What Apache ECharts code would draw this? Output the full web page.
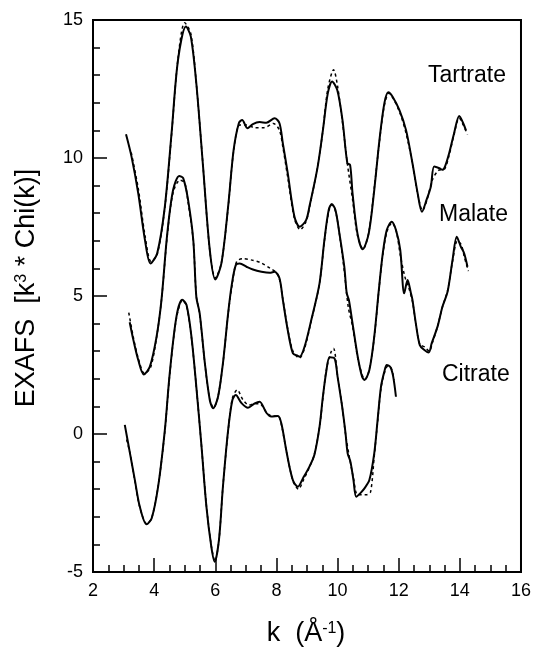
<!DOCTYPE html>
<html>
<head>
<meta charset="utf-8">
<script src="https://cdn.jsdelivr.net/npm/echarts@6/dist/echarts.min.js"></script>
<style>
  html, body { margin: 0; padding: 0; background: #fff; }
  #chart { width: 534px; height: 649px; }
</style>
</head>
<body>
<div id="chart"></div>
<script>
  // measured data, [k, k^3*chi(k)] (curves are offset vertically as in the figure)
  var tartrateExp = [[3.08,10.86],[3.26,10.05],[3.48,8.72],[3.70,7.03],[3.88,6.18],[4.10,6.55],[4.35,8.24],[4.57,10.9],[4.78,13.55],[5.04,14.76],[5.20,14.4],[5.38,12.7],[5.60,9.69],[5.82,6.67],[6.00,5.6],[6.20,6.18],[6.42,8.24],[6.60,10.29],[6.77,11.26],[6.88,11.38],[7.05,11.08],[7.23,11.23],[7.45,11.3],[7.67,11.28],[7.94,11.44],[8.10,11.26],[8.21,10.53],[8.37,9.45],[8.59,7.87],[8.76,7.51],[8.97,7.75],[9.08,8.24],[9.35,9.69],[9.52,11.0],[9.68,12.34],[9.82,12.77],[9.99,12.46],[10.16,11.38],[10.32,9.81],[10.41,9.75],[10.49,8.72],[10.65,7.27],[10.82,6.69],[11.02,7.27],[11.2,8.84],[11.37,10.65],[11.53,11.98],[11.66,12.38],[11.80,12.22],[12.02,11.74],[12.24,11.01],[12.45,9.81],[12.62,8.72],[12.76,8.05],[12.91,8.48],[13.05,8.96],[13.16,9.69],[13.33,9.63],[13.43,9.57],[13.52,9.71],[13.65,10.17],[13.81,10.89],[13.98,11.52],[14.11,11.26],[14.2,11.0]];
  var tartrateFit = [[3.25,10.2],[3.48,8.9],[3.70,7.2],[3.9,6.25],[4.1,6.5],[4.35,8.2],[4.57,10.85],[4.78,13.6],[5.0,14.9],[5.2,14.5],[5.38,12.7],[5.6,9.7],[5.82,6.65],[6.0,5.65],[6.2,6.2],[6.42,8.2],[6.6,10.25],[6.8,11.2],[7.0,11.2],[7.3,11.1],[7.6,11.1],[7.9,11.25],[8.1,11.0],[8.21,10.4],[8.37,9.3],[8.59,7.8],[8.78,7.4],[8.97,7.7],[9.08,8.2],[9.35,9.7],[9.52,11.0],[9.68,12.5],[9.87,13.2],[10.0,12.6],[10.16,11.3],[10.32,9.8],[10.49,8.5],[10.65,7.2],[10.84,6.7],[11.02,7.3],[11.2,8.9],[11.37,10.6],[11.53,11.9],[11.68,12.35],[11.85,12.1],[12.05,11.6],[12.24,10.9],[12.45,9.8],[12.62,8.7],[12.78,8.1],[12.93,8.5],[13.1,9.2],[13.3,9.55],[13.5,9.6],[13.65,10.1],[13.81,10.85],[13.98,11.45],[14.11,11.2],[14.25,10.85]];

  var malateExp = [[3.2,4.05],[3.32,3.41],[3.48,2.68],[3.66,2.16],[3.86,2.44],[4.08,3.53],[4.24,4.86],[4.43,7.27],[4.62,8.84],[4.82,9.35],[4.95,9.27],[5.11,8.48],[5.28,7.03],[5.38,4.97],[5.49,4.37],[5.66,2.56],[5.82,1.23],[5.93,0.93],[6.09,1.35],[6.25,2.56],[6.42,4.37],[6.53,5.34],[6.67,6.12],[6.80,6.18],[7.02,6.06],[7.23,5.96],[7.51,5.88],[7.78,5.84],[7.94,5.88],[8.10,5.64],[8.21,4.86],[8.37,3.77],[8.54,2.92],[8.70,2.83],[8.76,2.8],[8.92,3.16],[9.14,4.13],[9.41,5.46],[9.57,7.03],[9.71,8.12],[9.81,8.33],[9.93,8.12],[10.06,7.27],[10.22,6.06],[10.30,5.1],[10.37,4.86],[10.49,4.01],[10.66,2.8],[10.80,2.08],[10.88,1.96],[11.04,2.32],[11.2,3.53],[11.35,5.22],[11.48,6.55],[11.61,7.39],[11.77,7.69],[11.91,7.39],[12.05,6.67],[12.18,5.1],[12.29,5.58],[12.40,5.1],[12.45,4.86],[12.56,4.01],[12.69,3.22],[12.84,3.04],[12.98,2.95],[13.08,3.29],[13.27,3.89],[13.43,4.61],[13.60,5.16],[13.76,6.3],[13.90,7.15],[14.03,6.79],[14.14,6.55],[14.25,6.06]];
  var malateFit = [[3.17,4.4],[3.32,3.5],[3.48,2.75],[3.68,2.2],[3.88,2.4],[4.08,3.5],[4.24,4.85],[4.43,7.2],[4.62,8.75],[4.85,9.2],[5.0,9.1],[5.11,8.4],[5.28,7.0],[5.38,5.0],[5.49,4.35],[5.66,2.55],[5.82,1.25],[5.95,0.95],[6.09,1.35],[6.25,2.55],[6.42,4.35],[6.55,5.4],[6.7,6.25],[6.9,6.35],[7.2,6.3],[7.5,6.2],[7.8,6.0],[8.0,5.85],[8.1,5.6],[8.21,4.9],[8.37,3.8],[8.54,3.0],[8.75,2.75],[8.92,3.1],[9.14,4.1],[9.41,5.45],[9.57,7.0],[9.72,8.1],[9.83,8.3],[9.95,8.0],[10.08,7.1],[10.22,5.9],[10.35,4.6],[10.49,3.9],[10.66,2.75],[10.82,2.1],[10.9,1.98],[11.04,2.35],[11.2,3.5],[11.35,5.2],[11.48,6.5],[11.62,7.35],[11.78,7.65],[11.92,7.35],[12.05,6.5],[12.2,5.7],[12.33,5.3],[12.45,4.8],[12.56,4.0],[12.69,3.25],[12.86,3.15],[13.0,3.0],[13.1,3.3],[13.27,3.9],[13.43,4.6],[13.6,5.2],[13.76,6.25],[13.92,7.0],[14.05,6.85],[14.15,6.4],[14.28,5.9]];

  var citrateExp = [[3.04,0.33],[3.21,-0.7],[3.37,-1.67],[3.53,-2.63],[3.75,-3.27],[3.92,-3.05],[4.13,-1.91],[4.35,0.14],[4.51,2.2],[4.73,4.25],[4.92,4.86],[5.06,4.67],[5.22,3.53],[5.38,1.71],[5.55,-0.46],[5.71,-2.63],[5.87,-4.08],[5.98,-4.63],[6.12,-3.84],[6.25,-1.91],[6.42,0.14],[6.56,1.23],[6.67,1.41],[6.85,1.13],[7.07,0.95],[7.29,1.11],[7.45,1.17],[7.67,0.77],[7.83,0.63],[8.05,0.65],[8.16,0.39],[8.32,-0.58],[8.45,-1.30],[8.56,-1.73],[8.70,-1.91],[8.87,-1.6],[9.08,-1.18],[9.24,-0.76],[9.41,0.26],[9.52,1.35],[9.63,2.26],[9.74,2.78],[9.90,2.74],[10.0,2.08],[10.15,0.99],[10.26,0.03],[10.33,-0.70],[10.42,-1.0],[10.52,-1.67],[10.61,-2.27],[10.74,-2.15],[10.88,-1.97],[11.04,-1.67],[11.20,-0.70],[11.31,0.51],[11.42,1.71],[11.53,2.26],[11.61,2.5],[11.73,2.42],[11.82,2.08],[11.91,1.35]];
  var citrateFit = [[3.1,-0.2],[3.21,-0.7],[3.37,-1.7],[3.53,-2.65],[3.76,-3.25],[3.92,-3.05],[4.13,-1.9],[4.35,0.1],[4.51,2.15],[4.73,4.2],[4.93,4.85],[5.06,4.65],[5.22,3.5],[5.38,1.7],[5.55,-0.45],[5.71,-2.6],[5.87,-4.05],[5.99,-4.6],[6.12,-3.85],[6.25,-1.9],[6.42,0.1],[6.56,1.3],[6.72,1.6],[6.9,1.25],[7.1,1.05],[7.3,1.1],[7.45,1.1],[7.67,0.8],[7.85,0.65],[8.05,0.65],[8.16,0.35],[8.32,-0.6],[8.45,-1.3],[8.56,-1.75],[8.72,-2.0],[8.87,-1.7],[9.08,-1.2],[9.24,-0.75],[9.41,0.25],[9.52,1.3],[9.63,2.3],[9.78,2.95],[9.87,3.1],[10.0,2.1],[10.15,1.0],[10.26,0.0],[10.38,-0.8],[10.52,-1.6],[10.65,-2.2],[10.8,-2.2],[10.95,-2.2],[11.08,-2.1],[11.2,-0.8],[11.31,0.45],[11.42,1.65],[11.53,2.2],[11.63,2.45],[11.75,2.4],[11.85,1.95]];

  var curveLabels = ['Tartrate', 'Malate', 'Citrate'];
  var xTicks = [2, 4, 6, 8, 10, 12, 14, 16];
  var yTicks = [-5, 0, 5, 10, 15];

  var chart = echarts.init(document.getElementById('chart'));
  var FONT = 'Liberation Sans, Arial, Helvetica, sans-serif';

  function expLine(data) {
    return {
      type: 'line', data: data, showSymbol: false, smooth: 0.3,
      lineStyle: { color: '#000', width: 2 }, z: 3, silent: true
    };
  }
  function fitLine(data) {
    return {
      type: 'line', data: data, showSymbol: false, smooth: 0.3,
      lineStyle: { color: '#000', width: 1.5, type: [3, 3] }, z: 2, silent: true
    };
  }

  var option = {
    backgroundColor: '#fff',
    animation: false,
    grid: {
      left: 93, top: 20, width: 429, height: 552,
      show: true, borderColor: '#000', borderWidth: 2
    },
    xAxis: {
      type: 'value', min: xTicks[0], max: xTicks[xTicks.length - 1], interval: 2,
      axisLine: { onZero: false, lineStyle: { color: '#000', width: 2 } },
      axisTick: { inside: true, length: 14, lineStyle: { color: '#000', width: 1.5 } },
      minorTick: { show: true, splitNumber: 4, length: 7, lineStyle: { color: '#000', width: 1.5 } },
      splitLine: { show: false },
      axisLabel: { color: '#000', fontSize: 18, fontFamily: FONT, margin: 10 }
    },
    yAxis: {
      type: 'value', min: yTicks[0], max: yTicks[yTicks.length - 1], interval: 5,
      axisLine: { lineStyle: { color: '#000', width: 2 } },
      axisTick: { inside: true, length: 14, lineStyle: { color: '#000', width: 1.5 } },
      minorTick: { show: true, splitNumber: 5, length: 7, lineStyle: { color: '#000', width: 1.5 } },
      splitLine: { show: false },
      axisLabel: { color: '#000', fontSize: 18, fontFamily: FONT, margin: 10 }
    },
    graphic: [
      { type: 'text', x: 428, y: 76, style: { text: curveLabels[0], fontSize: 23, fontFamily: FONT, fill: '#000', verticalAlign: 'middle' } },
      { type: 'text', x: 439, y: 215, style: { text: curveLabels[1], fontSize: 23, fontFamily: FONT, fill: '#000', verticalAlign: 'middle' } },
      { type: 'text', x: 442, y: 375, style: { text: curveLabels[2], fontSize: 23, fontFamily: FONT, fill: '#000', verticalAlign: 'middle' } },
      {
        type: 'text', x: 27, y: 288, rotation: Math.PI / 2,
        style: {
          text: 'EXAFS  [k{sup|3} * Chi(k)]', fontSize: 27, fontFamily: FONT, fill: '#000',
          align: 'center', verticalAlign: 'middle',
          rich: { sup: { fontSize: 16, fontFamily: FONT, fill: '#000', verticalAlign: 'top' } }
        }
      },
      {
        type: 'text', x: 306, y: 634,
        style: {
          text: 'k  (Å{sup|-1})', fontSize: 27, fontFamily: FONT, fill: '#000',
          align: 'center', verticalAlign: 'middle',
          rich: { sup: { fontSize: 16, fontFamily: FONT, fill: '#000', verticalAlign: 'top' } }
        }
      }
    ],
    series: [
      fitLine(tartrateFit), expLine(tartrateExp),
      fitLine(malateFit), expLine(malateExp),
      fitLine(citrateFit), expLine(citrateExp)
    ]
  };

  chart.setOption(option);
</script>
</body>
</html>
